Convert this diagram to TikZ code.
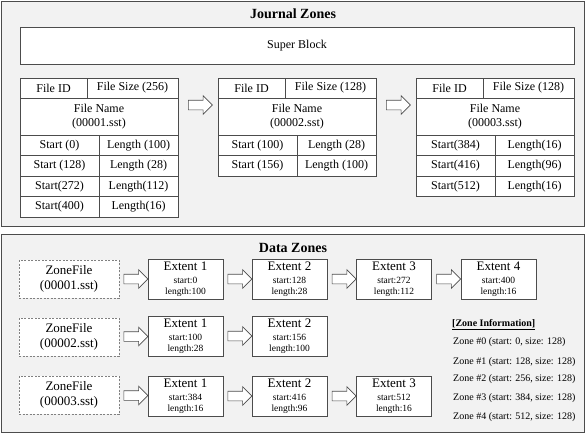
\documentclass[tikz,border=0pt]{standalone}
\usepackage{fontspec}
\setmainfont{Liberation Serif}
\usetikzlibrary{positioning, shapes.arrows, calc}
\tikzset{
  panel/.style={draw=black!70, fill=black!5, line width=0.8pt},
  heading/.style={font=\fontsize{14}{16}\selectfont\bfseries},
  cell/.style={rectangle, draw=black!70, fill=white, inner sep=0pt, outer sep=0pt, minimum height=20.5pt, text centered, align=center, font=\fontsize{12}{13.5}\selectfont},
  zonefile/.style={rectangle, draw=black!50, dashed, dash pattern=on 2pt off 1.5pt, fill=white, minimum width=100pt, minimum height=38pt, align=center, font=\fontsize{13}{15}\selectfont},
  extent/.style={rectangle, draw=black!70, fill=white, minimum width=75pt, minimum height=40pt, inner sep=0pt, align=center, font=\fontsize{9.5}{10.5}\selectfont},
  blockarrow/.style={single arrow, draw=black!70, fill=white, line width=0.6pt, inner xsep=0pt, inner ysep=4.5pt, minimum width=18pt, minimum height=24pt, single arrow head extend=4.5pt},
  zoneline/.style={anchor=west, inner sep=0pt, font=\fontsize{10}{12}\selectfont}
}

\begin{document}
\begin{tikzpicture}[x=1pt, y=-1pt]
    \useasboundingbox (0,0) rectangle (587,434);

    % journal zones
    \draw [panel] (1.5,1.5) rectangle (584,226.5);
    \node (jtitle) [heading] at (293,14) {Journal Zones};
    \node (super) [cell, minimum width=554pt, minimum height=37pt, anchor=north west] at (20,27) {Super Block};

    \node (id1) [cell, minimum width=67pt, minimum height=20pt, anchor=north west] at (20,78) {File ID};
    \node (size1) [cell, minimum width=91pt, minimum height=20pt, right=0pt of id1] {File Size (256)};
    \node (name1) [cell, minimum width=158pt, minimum height=37pt, below=0pt of id1.south west, anchor=north west] {File Name\\(00001.sst)};
    \node (s1a) [cell, minimum width=79pt, below=0pt of name1.south west, anchor=north west] {Start (0)};
    \node (l1a) [cell, minimum width=79pt, right=0pt of s1a] {Length (100)};
    \node (s1b) [cell, minimum width=79pt, below=0pt of s1a] {Start (128)};
    \node (l1b) [cell, minimum width=79pt, right=0pt of s1b] {Length (28)};
    \node (s1c) [cell, minimum width=79pt, below=0pt of s1b] {Start(272)};
    \node (l1c) [cell, minimum width=79pt, right=0pt of s1c] {Length(112)};
    \node (s1d) [cell, minimum width=79pt, below=0pt of s1c] {Start(400)};
    \node (l1d) [cell, minimum width=79pt, right=0pt of s1d] {Length(16)};

    \node (id2) [cell, minimum width=67pt, minimum height=20pt, anchor=north west] at (218,78) {File ID};
    \node (size2) [cell, minimum width=91pt, minimum height=20pt, right=0pt of id2] {File Size (128)};
    \node (name2) [cell, minimum width=158pt, minimum height=37pt, below=0pt of id2.south west, anchor=north west] {File Name\\(00002.sst)};
    \node (s2a) [cell, minimum width=79pt, below=0pt of name2.south west, anchor=north west] {Start (100)};
    \node (l2a) [cell, minimum width=79pt, right=0pt of s2a] {Length (28)};
    \node (s2b) [cell, minimum width=79pt, below=0pt of s2a] {Start (156)};
    \node (l2b) [cell, minimum width=79pt, right=0pt of s2b] {Length (100)};

    \node (id3) [cell, minimum width=67pt, minimum height=20pt, anchor=north west] at (416,78) {File ID};
    \node (size3) [cell, minimum width=91pt, minimum height=20pt, right=0pt of id3] {File Size (128)};
    \node (name3) [cell, minimum width=158pt, minimum height=37pt, below=0pt of id3.south west, anchor=north west] {File Name\\(00003.sst)};
    \node (s3a) [cell, minimum width=79pt, below=0pt of name3.south west, anchor=north west] {Start(384)};
    \node (l3a) [cell, minimum width=79pt, right=0pt of s3a] {Length(16)};
    \node (s3b) [cell, minimum width=79pt, below=0pt of s3a] {Start(416)};
    \node (l3b) [cell, minimum width=79pt, right=0pt of s3b] {Length(96)};
    \node (s3c) [cell, minimum width=79pt, below=0pt of s3b] {Start(512)};
    \node (l3c) [cell, minimum width=79pt, right=0pt of s3c] {Length(16)};

    \node (ja1) [blockarrow] at ($(size1.east)!0.5!(id2.west)+(0,17)$) {};
    \node (ja2) [blockarrow] at ($(size2.east)!0.5!(id3.west)+(0,17)$) {};

    % data zones
    \draw [panel] (1.5,234.5) rectangle (584,432);
    \node (dtitle) [heading] at (293,248) {Data Zones};

    \node (zf1) [zonefile] at (69,279) {ZoneFile\\(00001.sst)};
    \node (e11) [extent] at (185.5,279) {{\fontsize{13}{13}\selectfont Extent 1}\\[3pt]start:0\\length:100};
    \node (e12) [extent] at (289.5,279) {{\fontsize{13}{13}\selectfont Extent 2}\\[3pt]start:128\\length:28};
    \node (e13) [extent] at (394,279) {{\fontsize{13}{13}\selectfont Extent 3}\\[3pt]start:272\\length:112};
    \node (e14) [extent] at (498.5,279) {{\fontsize{13}{13}\selectfont Extent 4}\\[3pt]start:400\\length:16};

    \node (zf2) [zonefile] at (69,337) {ZoneFile\\(00002.sst)};
    \node (e21) [extent] at (185.5,336) {{\fontsize{13}{13}\selectfont Extent 1}\\[3pt]start:100\\length:28};
    \node (e22) [extent] at (289.5,336) {{\fontsize{13}{13}\selectfont Extent 2}\\[3pt]start:156\\length:100};

    \node (zf3) [zonefile] at (69,395) {ZoneFile\\(00003.sst)};
    \node (e31) [extent] at (185.5,396) {{\fontsize{13}{13}\selectfont Extent 1}\\[3pt]start:384\\length:16};
    \node (e32) [extent] at (289.5,396) {{\fontsize{13}{13}\selectfont Extent 2}\\[3pt]start:416\\length:96};
    \node (e33) [extent] at (394,396) {{\fontsize{13}{13}\selectfont Extent 3}\\[3pt]start:512\\length:16};

    \node (da11) [blockarrow] at ($(zf1.east)!0.5!(e11.west)$) {};
    \node (da12) [blockarrow] at ($(e11.east)!0.5!(e12.west)$) {};
    \node (da13) [blockarrow] at ($(e12.east)!0.5!(e13.west)$) {};
    \node (da14) [blockarrow] at ($(e13.east)!0.5!(e14.west)$) {};
    \node (da21) [blockarrow] at ($(zf2.east)!0.5!(e21.west)$) {};
    \node (da22) [blockarrow] at ($(e21.east)!0.5!(e22.west)$) {};
    \node (da31) [blockarrow] at ($(zf3.east)!0.5!(e31.west)$) {};
    \node (da32) [blockarrow] at ($(e31.east)!0.5!(e32.west)$) {};
    \node (da33) [blockarrow] at ($(e32.east)!0.5!(e33.west)$) {};

    % zone information
    \node (zinfo) [zoneline, font=\fontsize{10}{12}\selectfont\bfseries] at (452,325) {\underline{[Zone Information]}};
    \node (zone0) [zoneline] at (453,342) {Zone \#0 (start: 0, size: 128)};
    \node (zone1) [zoneline] at (453,362) {Zone \#1 (start: 128, size: 128)};
    \node (zone2) [zoneline] at (453,379) {Zone \#2 (start: 256, size: 128)};
    \node (zone3) [zoneline] at (453,398) {Zone \#3 (start: 384, size: 128)};
    \node (zone4) [zoneline] at (453,417) {Zone \#4 (start: 512, size: 128)};
\end{tikzpicture}
\end{document}
